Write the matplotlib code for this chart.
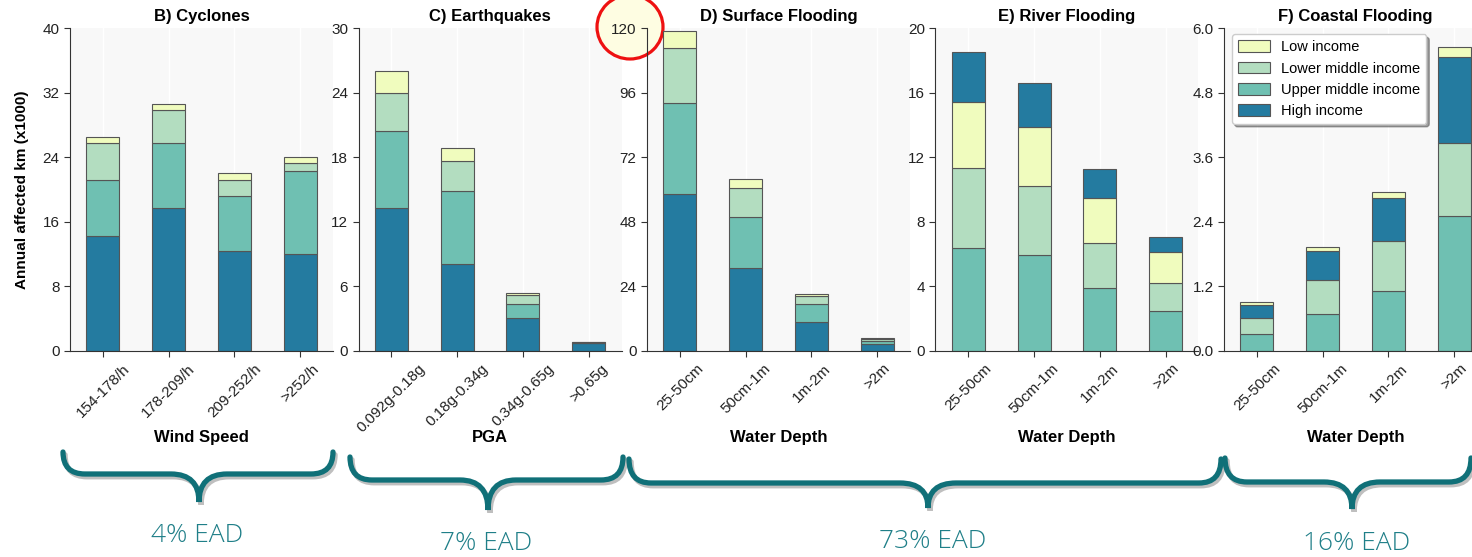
import matplotlib
matplotlib.use("Agg")
import matplotlib.pyplot as plt
import numpy as np
from matplotlib.patches import Ellipse, PathPatch
from matplotlib.path import Path
from matplotlib.transforms import Affine2D
import matplotlib.patheffects as pe

plt.rcParams['font.family'] = ['Liberation Sans', 'DejaVu Sans']

W, H = 1472, 557

# income groups and colours
groups = ['Low income', 'Lower middle income', 'Upper middle income', 'High income']
colors = {'Low income': '#f0fcbe', 'Lower middle income': '#b3ddc0',
          'Upper middle income': '#6fc0b2', 'High income': '#247ba0'}

# B) Cyclones (annual affected km x1000, segment heights)
cyc_bins = ['154-178/h', '178-209/h', '209-252/h', '>252/h']
cyc_high = [14.3, 17.7, 12.4, 12.0]
cyc_upper = [6.9, 8.05, 6.8, 10.3]
cyc_lower = [4.55, 4.15, 1.95, 0.95]
cyc_low = [0.75, 0.7, 0.95, 0.75]

# C) Earthquakes
eq_bins = ['0.092g-0.18g', '0.18g-0.34g', '0.34g-0.65g', '>0.65g']
eq_high = [13.25, 8.05, 3.05, 0.75]
eq_upper = [7.2, 6.85, 1.35, 0.03]
eq_lower = [3.55, 2.75, 0.8, 0.03]
eq_low = [2.0, 1.2, 0.2, 0.05]

# D) Surface flooding
depth_bins = ['25-50cm', '50cm-1m', '1m-2m', '>2m']
sf_high = [58.3, 30.7, 10.7, 2.5]
sf_upper = [33.8, 19.0, 6.7, 1.2]
sf_lower = [20.5, 11.0, 3.1, 0.6]
sf_low = [6.2, 3.2, 0.75, 0.4]

# E) River flooding
rf_upper = [6.35, 5.95, 3.9, 2.5]
rf_lower = [5.0, 4.25, 2.8, 1.7]
rf_low = [4.05, 3.7, 2.75, 1.9]
rf_high = [3.1, 2.7, 1.85, 0.95]

# F) Coastal flooding
cf_upper = [0.31, 0.68, 1.12, 2.5]
cf_lower = [0.31, 0.63, 0.93, 1.37]
cf_high = [0.24, 0.54, 0.8, 1.6]
cf_low = [0.045, 0.09, 0.1, 0.17]

ead_labels = ['4% EAD', '7% EAD', '73% EAD', '16% EAD']

panels = [
    dict(title='B) Cyclones', xlabel='Wind Speed', bins=cyc_bins, ymax=40,
         stack=[('High income', cyc_high), ('Upper middle income', cyc_upper),
                ('Lower middle income', cyc_lower), ('Low income', cyc_low)]),
    dict(title='C) Earthquakes', xlabel='PGA', bins=eq_bins, ymax=30,
         stack=[('High income', eq_high), ('Upper middle income', eq_upper),
                ('Lower middle income', eq_lower), ('Low income', eq_low)]),
    dict(title='D) Surface Flooding', xlabel='Water Depth', bins=depth_bins, ymax=120,
         stack=[('High income', sf_high), ('Upper middle income', sf_upper),
                ('Lower middle income', sf_lower), ('Low income', sf_low)]),
    dict(title='E) River Flooding', xlabel='Water Depth', bins=depth_bins, ymax=20,
         stack=[('Upper middle income', rf_upper), ('Lower middle income', rf_lower),
                ('Low income', rf_low), ('High income', rf_high)]),
    dict(title='F) Coastal Flooding', xlabel='Water Depth', bins=depth_bins, ymax=6.0,
         stack=[('Upper middle income', cf_upper), ('Lower middle income', cf_lower),
                ('High income', cf_high), ('Low income', cf_low)]),
]

fig = plt.figure(figsize=(W / 100, H / 100), dpi=100)
lefts = [70, 358.5, 647, 935.5, 1224]
ax_w, ax_top, ax_bot = 263, 28, 351

axes = []
for left, p in zip(lefts, panels):
    ax = fig.add_axes([left / W, 1 - ax_bot / H, ax_w / W, (ax_bot - ax_top) / H])
    ax.set_facecolor('#f8f8f8')
    x = np.arange(len(p['bins']))
    bottom = np.zeros(len(x))
    handles = {}
    for name, vals in p['stack']:
        bars = ax.bar(x, vals, 0.5, bottom=bottom, color=colors[name],
                      edgecolor='#555555', linewidth=0.8, label=name)
        handles[name] = bars
        bottom += np.array(vals)
    ax.set_xlim(-0.5, len(x) - 0.5)
    ax.set_ylim(0, p['ymax'])
    ticks = np.linspace(0, p['ymax'], 6)
    ax.set_yticks(ticks)
    if p['ymax'] < 10:
        ax.set_yticklabels([f'{v:.1f}' for v in ticks])
    ax.set_xticks(x)
    ax.set_xticklabels(p['bins'], rotation=45)
    ax.grid(axis='x', color='white', linewidth=1)
    ax.set_axisbelow(True)
    for s in ['top', 'right']:
        ax.spines[s].set_visible(False)
    for s in ['left', 'bottom']:
        ax.spines[s].set_color('#333333')
    ax.tick_params(axis='both', labelsize=11, colors='#333333', labelcolor='#222222',
                   length=4, direction='out')
    ax.set_title(p['title'], fontsize=12, fontweight='bold', pad=5)
    ax.set_xlabel(p['xlabel'], fontsize=12, fontweight='bold')
    ax.xaxis.set_label_coords(0.5, -0.245)
    p['handles'] = handles
    axes.append(ax)

axes[0].set_ylabel('Annual affected km (x1000)', fontsize=11, fontweight='bold')
axes[0].yaxis.set_label_coords(-0.155, 0.5)

# legend on the coastal panel
hf = panels[4]['handles']
leg = axes[4].legend([hf[g] for g in groups], groups, loc='upper left',
                     bbox_to_anchor=(0.03, 0.98), borderaxespad=0, fontsize=10.5,
                     shadow=True, fancybox=True, framealpha=1, edgecolor='#cccccc',
                     handlelength=2.2, handleheight=0.85, handletextpad=0.8)

# highlight around the top tick of the surface flooding axis
ring = Ellipse((630 / W, 1 - 27 / H), 66 / W, 64 / H, transform=fig.transFigure,
               facecolor='#fefde2', edgecolor='#ee1111', linewidth=2.3,
               clip_on=False, zorder=0.4)
axes[2].add_artist(ring)

# curly braces grouping the hazards
px = Affine2D().scale(1 / W, -1 / H).translate(0, 1) + fig.transFigure


def brace(x0, x1, yt, yh, xm, yp, r=22, r2=28):
    verts = [(x0, yt), (x0, yh), (x0 + r, yh),
             (xm - r2, yh), (xm, yh), (xm, yp),
             (xm, yh), (xm + r2, yh),
             (x1 - r, yh), (x1, yh), (x1, yt)]
    codes = [Path.MOVETO, Path.CURVE3, Path.CURVE3,
             Path.LINETO, Path.CURVE3, Path.CURVE3,
             Path.CURVE3, Path.CURVE3,
             Path.LINETO, Path.CURVE3, Path.CURVE3]
    patch = PathPatch(Path(verts, codes), transform=px, facecolor='none',
                      edgecolor='#107078', linewidth=3.8, capstyle='round',
                      path_effects=[pe.SimpleLineShadow(offset=(1.5, -2), alpha=0.25),
                                    pe.Normal()])
    fig.add_artist(patch)


braces = [(63, 333, 452, 474, 199, 502), (350, 623, 457, 480, 488, 510),
          (629, 1221, 459, 483, 928, 508), (1225, 1471, 458, 482, 1352, 509)]
label_pos = [(197, 535), (486, 543), (933, 542), (1357, 543)]
for b in braces:
    brace(*b)
for (tx, ty), lab in zip(label_pos, ead_labels):
    fig.text(tx / W, 1 - ty / H, lab, ha='center', va='center', fontsize=19,
             color='#1f7f88', family=['Open Sans', 'DejaVu Sans'], fontweight='light')

fig.savefig('out.png', dpi=100)
